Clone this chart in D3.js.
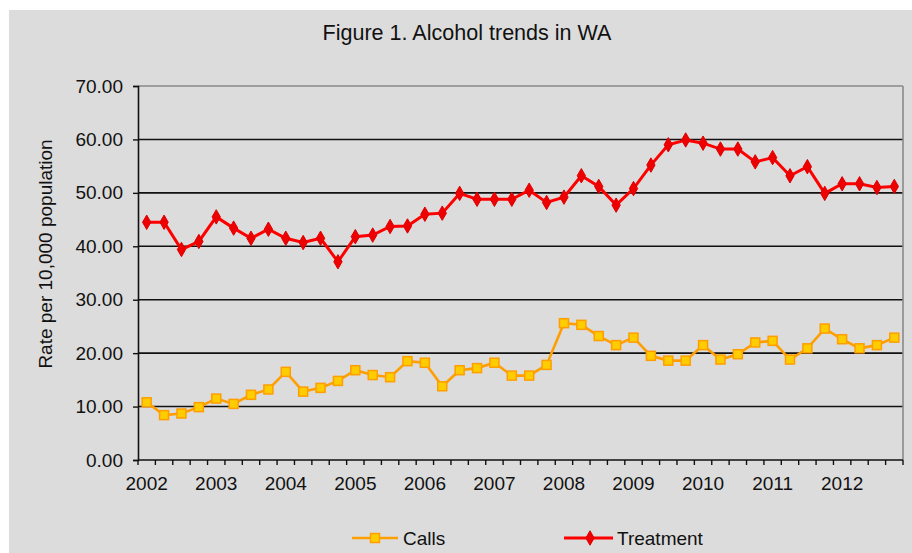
<!DOCTYPE html>
<html>
<head>
<meta charset="utf-8">
<script src="https://cdn.jsdelivr.net/npm/d3@7"></script>
<style>
html,body{margin:0;padding:0;background:#fff;}
svg{display:block;}
text{font-family:"Liberation Sans",Arial,sans-serif;fill:#111;}
</style>
</head>
<body>
<svg id="chart" width="912" height="553"></svg>
<script>
const years = ["2002","2003","2004","2005","2006","2007","2008","2009","2010","2011","2012"];
const quarters = ["Q1","Q2","Q3","Q4"];
const calls = [10.8,8.4,8.7,9.9,11.5,10.5,12.2,13.2,16.5,12.8,13.5,14.8,16.8,15.9,15.5,18.5,18.2,13.8,16.8,17.2,18.2,15.8,15.8,17.8,25.6,25.3,23.2,21.5,22.9,19.5,18.6,18.6,21.5,18.8,19.8,22.0,22.3,18.8,20.9,24.6,22.6,20.9,21.5,22.9];
const treatment = [44.5,44.5,39.4,40.9,45.5,43.4,41.5,43.2,41.5,40.7,41.5,37.1,41.8,42.1,43.7,43.8,46.0,46.2,49.9,48.8,48.8,48.8,50.5,48.2,49.2,53.2,51.2,47.7,50.8,55.2,59.0,59.9,59.3,58.2,58.2,55.8,56.6,53.2,54.9,49.9,51.7,51.7,51.0,51.2];
const yTicks = [0,10,20,30,40,50,60,70];
const title = "Figure 1. Alcohol trends in WA";
const yTitle = "Rate per 10,000 population";
const seriesNames = ["Calls","Treatment"];

const categories = [];
years.forEach(y => quarters.forEach(q => categories.push(y + "-" + q)));

const svg = d3.select("#chart");
svg.append("rect").attr("x",9).attr("y",10).attr("width",903).attr("height",543).attr("fill","#dcdcdc");

const pL = 138, pR = 903, pT = 86, pB = 460;
const x = d3.scaleBand().domain(categories).range([pL,pR]).padding(0);
const y = d3.scaleLinear().domain([0,70]).range([pB,pT]);

// title
svg.append("text").attr("x",322.5).attr("y",40)
  .attr("textLength",289).attr("lengthAdjust","spacingAndGlyphs")
  .style("font-size","22px").text(title);

// gridlines
svg.append("g").selectAll("line").data(yTicks.filter(d=>d>0 && d<70)).join("line")
  .attr("x1",pL).attr("x2",pR).attr("y1",d=>y(d)).attr("y2",d=>y(d))
  .attr("stroke","#111").attr("stroke-width",1.6);
// plot border top/right
svg.append("line").attr("x1",pL).attr("x2",pR).attr("y1",y(70)).attr("y2",y(70)).attr("stroke","#8a8a8a").attr("stroke-width",1.6);
svg.append("line").attr("x1",pR).attr("x2",pR).attr("y1",pT).attr("y2",pB).attr("stroke","#8a8a8a").attr("stroke-width",1.6);

// y axis
const yAxis = d3.axisLeft(y).tickValues(yTicks).tickFormat(d3.format(".2f")).tickSize(5).tickPadding(10);
const gy = svg.append("g").attr("transform",`translate(${pL},0)`).call(yAxis);
gy.select(".domain").attr("stroke","#111").attr("stroke-width",1.6);
gy.selectAll(".tick line").attr("stroke","#111").attr("stroke-width",1.4);
gy.selectAll(".tick text").style("font-size","19px").style("font-family","Liberation Sans, Arial, sans-serif").attr("fill","#111");

// x axis: ticks at category boundaries
const boundaries = categories.map(c => x(c)).concat([pR]);
const gx = svg.append("g");
gx.append("line").attr("x1",pL).attr("x2",pR).attr("y1",pB).attr("y2",pB).attr("stroke","#111").attr("stroke-width",1.6);
gx.selectAll("line.t").data(boundaries).join("line").attr("class","t")
  .attr("x1",d=>d).attr("x2",d=>d).attr("y1",pB).attr("y2",pB+5).attr("stroke","#111").attr("stroke-width",1.4);
gx.selectAll("text").data(years).join("text")
  .attr("x",d=>x(d+"-Q1")+x.bandwidth()/2).attr("y",pB+30).attr("text-anchor","middle")
  .style("font-size","19px").text(d=>d);

// y title
svg.append("text").attr("transform","translate(52,254) rotate(-90)").attr("text-anchor","middle")
  .style("font-size","19px").text(yTitle);

const cx = (d,i) => x(categories[i]) + x.bandwidth()/2;
const line = d3.line().x((d,i)=>cx(d,i)).y(d=>y(d));

// Calls
svg.append("path").datum(calls).attr("d",line).attr("fill","none").attr("stroke","#ff9e00").attr("stroke-width",2.6);
svg.append("g").selectAll("rect").data(calls).join("rect")
  .attr("x",(d,i)=>cx(d,i)-4.5).attr("y",d=>y(d)-4.5).attr("width",9).attr("height",9)
  .attr("fill","#ffcc00").attr("stroke","#ff9e00").attr("stroke-width",1.5);

// Treatment
const diamond = d3.symbol().type(d3.symbolDiamond).size(60);
svg.append("path").datum(treatment).attr("d",line).attr("fill","none").attr("stroke","#ff0000").attr("stroke-width",3);
svg.append("g").selectAll("path").data(treatment).join("path")
  .attr("transform",(d,i)=>`translate(${cx(d,i)},${y(d)})`).attr("d",diamond)
  .attr("fill","#ee0000").attr("stroke","#dd0000").attr("stroke-width",1);

// legend
const lg = svg.append("g");
lg.append("line").attr("x1",352).attr("x2",398).attr("y1",538).attr("y2",538).attr("stroke","#ff9e00").attr("stroke-width",2.6);
lg.append("rect").attr("x",375-4.5).attr("y",538-4.5).attr("width",9).attr("height",9).attr("fill","#ffcc00").attr("stroke","#ff9e00").attr("stroke-width",1.5);
lg.append("text").attr("x",403).attr("y",545).style("font-size","19px").text(seriesNames[0]);
lg.append("line").attr("x1",564).attr("x2",613).attr("y1",538).attr("y2",538).attr("stroke","#ff0000").attr("stroke-width",3);
lg.append("path").attr("transform","translate(590,538)").attr("d",diamond).attr("fill","#ee0000").attr("stroke","#dd0000");
lg.append("text").attr("x",617).attr("y",545).style("font-size","19px").text(seriesNames[1]);
</script>
</body>
</html>
